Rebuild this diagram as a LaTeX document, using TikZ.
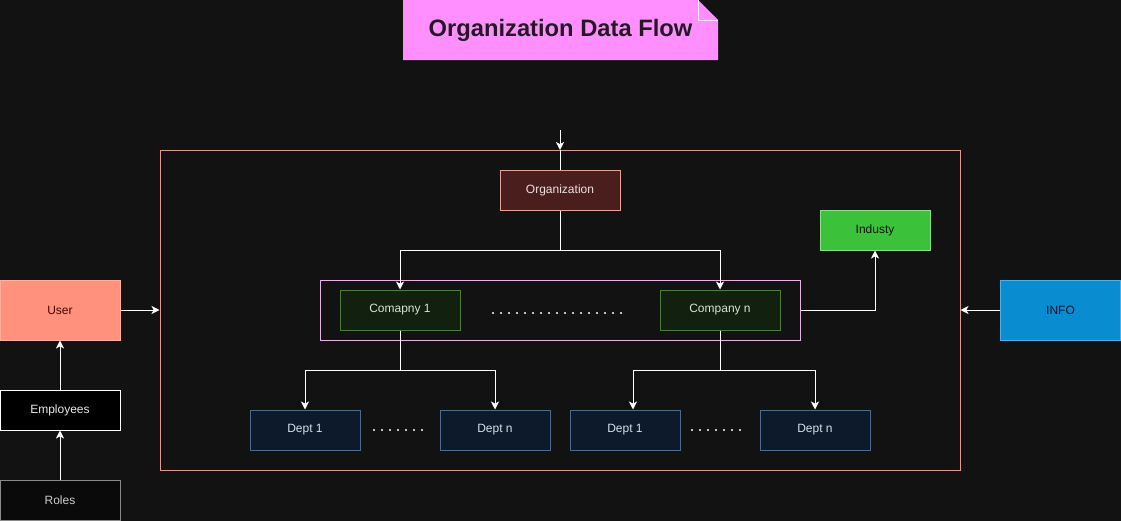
\documentclass[tikz,border=0pt]{standalone}
\usepackage{fontspec}
\setmainfont{Liberation Sans}
\usetikzlibrary{arrows.meta}
\definecolor{bg}{HTML}{121212}
\definecolor{titlepink}{HTML}{FF8FFF}
\definecolor{titletxt}{HTML}{221A22}
\definecolor{framecol}{HTML}{E8968A}
\definecolor{orgfill}{HTML}{4B1E1E}
\definecolor{orgdraw}{HTML}{E8A29A}
\definecolor{orgtxt}{HTML}{F0E0E0}
\definecolor{indfill}{HTML}{3CC13B}
\definecolor{inddraw}{HTML}{8CE08A}
\definecolor{indtxt}{HTML}{061506}
\definecolor{innercol}{HTML}{E6B3E6}
\definecolor{compfill}{HTML}{11200F}
\definecolor{compdraw}{HTML}{4E7D36}
\definecolor{comptxt}{HTML}{D6E6D0}
\definecolor{deptfill}{HTML}{0C1A2C}
\definecolor{deptdraw}{HTML}{4D6B8F}
\definecolor{depttxt}{HTML}{D8E0EA}
\definecolor{userfill}{HTML}{FF917D}
\definecolor{userdraw}{HTML}{FFB0A0}
\definecolor{usertxt}{HTML}{4A0606}
\definecolor{rolesdraw}{HTML}{8A8A8A}
\definecolor{infofill}{HTML}{0A8CD0}
\definecolor{infodraw}{HTML}{4FB0E8}
\definecolor{infotxt}{HTML}{06142A}
\tikzset{
  box/.style={draw, line width=0.75pt, inner sep=0pt, font=\fontsize{9pt}{11pt}\selectfont},
  smallbox/.style={box, minimum width=90pt, minimum height=30pt},
  deptbox/.style={box, fill=deptfill, draw=deptdraw, text=depttxt, minimum width=82.5pt, minimum height=30pt},
  compbox/.style={box, fill=compfill, draw=compdraw, text=comptxt, minimum width=90pt, minimum height=30pt},
  conn/.style={draw=white, line width=0.75pt},
  arr/.style={conn, -{Stealth[length=6pt,width=6pt,inset=1.6pt]}},
  dotline/.style={white, line width=1.6pt, line cap=round, dash pattern=on 0pt off 6pt}
}
\begin{document}
\begin{tikzpicture}[x=0.75pt,y=-0.75pt]
\useasboundingbox (0,0) rectangle (1121,521);
\fill[bg] (0,0) rectangle (1121,521);
% title note
\fill[titlepink] (403,0) -- (698,0) -- (718,20) -- (718,60) -- (403,60) -- cycle;
\draw[white!80!titlepink, line width=0.5pt] (698,0) -- (698,20) -- (718,20);
\node[font=\fontsize{17.8pt}{21pt}\selectfont\bfseries, text=titletxt] (title) at (560.5,30) {Organization Data Flow};
% frames
\node[draw=framecol, line width=0.75pt, minimum width=600pt, minimum height=240pt, inner sep=0pt] (frame) at (560,310) {};
\node[draw=innercol, line width=0.75pt, minimum width=360pt, minimum height=45pt, inner sep=0pt] (inner) at (560,310) {};
% nodes
\node[smallbox, fill=orgfill, draw=orgdraw, text=orgtxt] (org) at (560,190) {Organization};
\node[box, fill=indfill, draw=inddraw, text=indtxt, minimum width=82.5pt, minimum height=30pt] (ind) at (875,230) {Industy};
\node[compbox] (c1) at (400,310) {Comapny 1};
\node[compbox] (cn) at (720,310) {Company n};
\node[deptbox] (d11) at (305,430) {Dept 1};
\node[deptbox] (d1n) at (495,430) {Dept n};
\node[deptbox] (dn1) at (625,430) {Dept 1};
\node[deptbox] (dnn) at (815,430) {Dept n};
\node[box, fill=userfill, draw=userdraw, text=usertxt, minimum width=90pt, minimum height=45pt] (user) at (60,310) {User};
\node[smallbox, fill=black, draw=white, text=white!92!black] (emp) at (60,410) {Employees};
\node[smallbox, fill=black!96!white, draw=rolesdraw, text=white!80!black] (roles) at (60,500) {Roles};
\node[box, fill=infofill, draw=infodraw, text=infotxt, minimum width=90pt, minimum height=45pt] (info) at (1060.5,310) {INFO};
% dots
\coordinate (da) at (493,313); \coordinate (db) at (622,313);
\draw[dotline] (da) -- (db);
\coordinate (dc) at (374,430); \coordinate (dd) at (423,430);
\draw[dotline] (dc) -- (dd);
\coordinate (de) at (692,430); \coordinate (df) at (741,430);
\draw[dotline] (de) -- (df);
% connectors
\coordinate (topin) at (560,130);
\coordinate (framein) at (560,150);
\coordinate (dn1in) at ([xshift=8*0.75pt]dn1.north);
\draw[arr] (topin) -- (framein);
\draw[conn] (framein) -- (org.north);
\draw[arr] (org.south) -- ++(0,40) -| (c1.north);
\draw[arr] (org.south) -- ++(0,40) -| (cn.north);
\draw[arr] (c1.south) -- ++(0,40) -| (d11.north);
\draw[arr] (c1.south) -- ++(0,40) -| (d1n.north);
\draw[arr] (cn.south) -- ++(0,40) -| (dn1in);
\draw[arr] (cn.south) -- ++(0,40) -| (dnn.north);
\draw[arr] (inner.east) -| (ind.south);
\draw[arr] (user.east) -- (frame.west |- user.east);
\draw[arr] (emp.north) -- (user.south);
\draw[arr] (roles.north) -- (emp.south);
\draw[arr] (info.west) -- (frame.east |- info.west);
\end{tikzpicture}
\end{document}
